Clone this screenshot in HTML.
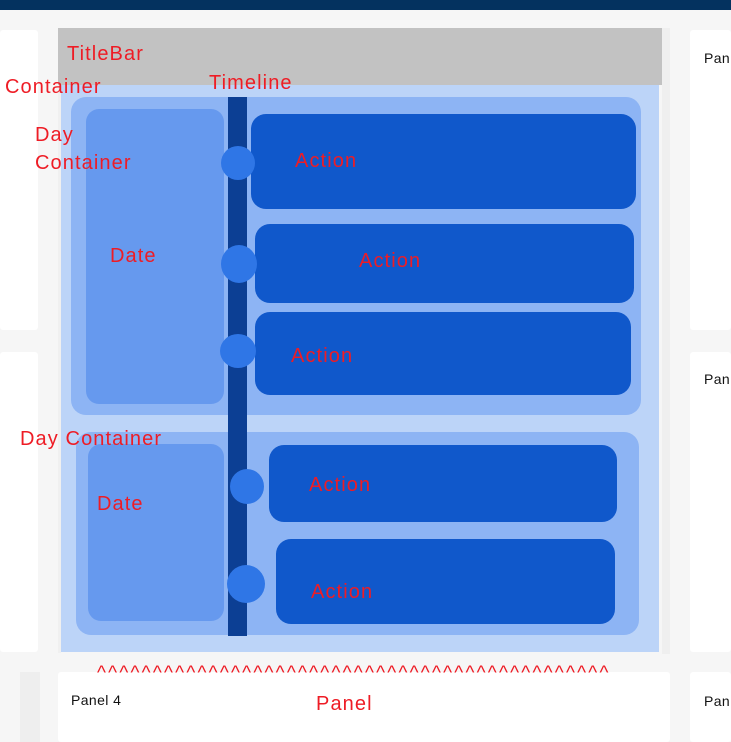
<!DOCTYPE html>
<html><head><meta charset="utf-8"><style>
*{margin:0;padding:0;box-sizing:border-box}
body{width:731px;height:742px;background:#f6f6f6;position:relative;overflow:hidden;font-family:"Liberation Sans",sans-serif}
div{position:absolute}
.w{background:#fff;border-radius:3px}
.r{color:#ee1c25;font-size:20px;letter-spacing:1.1px;white-space:nowrap;line-height:1}
.a{background:#1058cb;border-radius:15px}
.c{background:#2f76e6;border-radius:50%}
.k{color:#111;font-size:14px;letter-spacing:0.4px;line-height:1}
</style></head><body>
<div style="left:0;top:0;width:731px;height:10px;background:#04325f"></div>
<div class="w" style="left:0;top:30px;width:38px;height:300px"></div>
<div class="w" style="left:0;top:352px;width:38px;height:300px"></div>
<div style="left:20px;top:672px;width:20px;height:70px;background:#eeeeee"></div>
<div class="w" style="left:690px;top:30px;width:41px;height:300px"></div>
<div class="w" style="left:690px;top:352px;width:41px;height:300px"></div>
<div class="w" style="left:690px;top:672px;width:41px;height:70px"></div>
<div class="k" style="left:704px;top:51px">Pan</div>
<div class="k" style="left:704px;top:372px">Pan</div>
<div class="k" style="left:704px;top:694px">Pan</div>
<div style="left:662px;top:28px;width:8px;height:626px;background:#efefef"></div>
<div style="left:58px;top:28px;width:604px;height:57px;background:#c2c2c2"></div>
<div style="left:58px;top:85px;width:3px;height:568px;background:#f0f0f0"></div>
<div style="left:61px;top:85px;width:598px;height:567px;background:#bcd4f8"></div>
<div style="left:71px;top:97px;width:570px;height:318px;background:#8db4f4;border-radius:15px"></div>
<div style="left:86px;top:109px;width:138px;height:295px;background:#6699ee;border-radius:13px"></div>
<div style="left:76px;top:432px;width:563px;height:203px;background:#8db4f4;border-radius:15px"></div>
<div style="left:88px;top:444px;width:136px;height:177px;background:#6699ee;border-radius:13px"></div>
<div style="left:228px;top:97px;width:19px;height:539px;background:#0c3f94"></div>
<div class="a" style="left:251px;top:114px;width:385px;height:95px"></div>
<div class="a" style="left:255px;top:224px;width:379px;height:79px"></div>
<div class="a" style="left:255px;top:312px;width:376px;height:83px"></div>
<div class="a" style="left:269px;top:445px;width:348px;height:77px"></div>
<div class="a" style="left:276px;top:539px;width:339px;height:85px"></div>
<div class="c" style="left:221px;top:146px;width:34px;height:34px"></div>
<div class="c" style="left:221px;top:245px;width:36px;height:38px"></div>
<div class="c" style="left:220px;top:334px;width:36px;height:34px"></div>
<div class="c" style="left:230px;top:469px;width:34px;height:35px"></div>
<div class="c" style="left:227px;top:565px;width:38px;height:38px"></div>
<div style="left:58px;top:672px;width:612px;height:70px;background:#fff;border-radius:3px"></div>
<div class="k" style="left:71px;top:693px">Panel 4</div>
<div class="r" style="left:67px;top:44px">TitleBar</div>
<div class="r" style="left:5px;top:77px">Container</div>
<div class="r" style="left:209px;top:73px">Timeline</div>
<div class="r" style="left:35px;top:125px">Day</div>
<div class="r" style="left:35px;top:153px">Container</div>
<div class="r" style="left:110px;top:246px">Date</div>
<div class="r" style="left:20px;top:429px">Day Container</div>
<div class="r" style="left:97px;top:494px">Date</div>
<div class="r" style="left:295px;top:151px">Action</div>
<div class="r" style="left:359px;top:251px">Action</div>
<div class="r" style="left:291px;top:346px">Action</div>
<div class="r" style="left:309px;top:475px">Action</div>
<div class="r" style="left:311px;top:582px">Action</div>
<div class="r" style="left:97px;top:664px;font-size:19px;letter-spacing:2.25px">^^^^^^^^^^^^^^^^^^^^^^^^^^^^^^^^^^^^^^^^^^^^^^</div>
<div class="r" style="left:316px;top:694px">Panel</div>
</body></html>
